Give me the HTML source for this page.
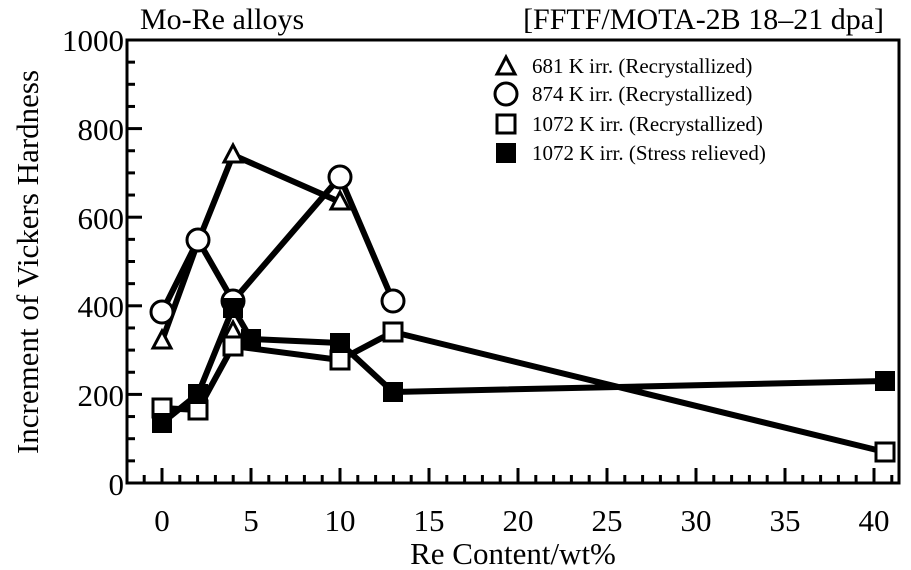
<!DOCTYPE html>
<html><head><meta charset="utf-8"><style>body{margin:0;background:#fff}svg{display:block}</style></head><body>
<svg width="911" height="570" viewBox="0 0 911 570" font-family="Liberation Serif, serif">
<defs>
<g id="tri"><polygon points="0,-10 9,7 -9,7" fill="#fff" stroke="#000" stroke-width="3"/></g>
<g id="cir"><circle r="11" fill="#fff" stroke="#000" stroke-width="3"/></g>
<g id="osq"><rect x="-9" y="-9" width="18" height="18" fill="#fff" stroke="#000" stroke-width="3"/></g>
<g id="fsq"><rect x="-10" y="-10" width="20" height="20" fill="#000"/></g>
</defs>
<rect x="127" y="40" width="772" height="443" fill="none" stroke="#000" stroke-width="3"/>
<g stroke="#000" stroke-width="3" id="ticks"></g>
<g font-size="31" text-anchor="end">
<text x="124" y="51">1000</text><text x="124" y="140">800</text><text x="124" y="229">600</text><text x="124" y="317">400</text><text x="124" y="406">200</text><text x="124" y="495">0</text>
</g>
<g font-size="31" text-anchor="middle">
<text x="162" y="531">0</text><text x="251" y="531">5</text><text x="340" y="531">10</text><text x="429" y="531">15</text><text x="518" y="531">20</text><text x="607" y="531">25</text><text x="696" y="531">30</text><text x="785" y="531">35</text><text x="874" y="531">40</text>
<text x="513" y="564">Re Content/wt%</text>
</g>
<text x="38" y="262" font-size="31" text-anchor="middle" transform="rotate(-90 38 262)">Increment of Vickers Hardness</text>
<text x="140" y="29" font-size="30">Mo-Re alloys</text>
<text x="884" y="29" font-size="30" text-anchor="end">[FFTF/MOTA-2B 18–21 dpa]</text>
<g font-size="21">
<use href="#tri" x="506" y="67"/><text x="532" y="73">681 K irr. (Recrystallized)</text>
<use href="#cir" x="506" y="94"/><text x="532" y="101">874 K irr. (Recrystallized)</text>
<use href="#osq" x="506" y="124"/><text x="532" y="131">1072 K irr. (Recrystallized)</text>
<use href="#fsq" x="506" y="153"/><text x="532" y="160">1072 K irr. (Stress relieved)</text>
</g>
<g fill="none" stroke="#000" stroke-width="6" stroke-linejoin="round">
<polyline points="162,341 198,242 233,155 340,202"/>
<polyline points="162,312 198,240 233,301 340,177 393,301"/>
<polyline points="162,408 198,410 233,346 340,360 393,332 885,452"/>
<polyline points="162,423 198,394 233,308 251,339 340,343 393,392 885,381"/>
</g>
<use href="#tri" x="162" y="341"/><use href="#tri" x="233" y="155"/><use href="#tri" x="340" y="202"/><use href="#tri" x="233" y="332"/>
<use href="#cir" x="162" y="312"/><use href="#cir" x="198" y="240"/><use href="#cir" x="233" y="301"/><use href="#cir" x="340" y="177"/><use href="#cir" x="393" y="301"/>
<use href="#osq" x="162" y="408"/><use href="#osq" x="198" y="410"/><use href="#osq" x="233" y="346"/><use href="#osq" x="340" y="360"/><use href="#osq" x="393" y="332"/><use href="#osq" x="885" y="452"/>
<use href="#fsq" x="162" y="423"/><use href="#fsq" x="198" y="394"/><use href="#fsq" x="233" y="308"/><use href="#fsq" x="251" y="339"/><use href="#fsq" x="340" y="343"/><use href="#fsq" x="393" y="392"/><use href="#fsq" x="885" y="381"/>
</svg>
<script>
var g=document.getElementById('ticks'),s='';
for(var v=0;v<=1000;v+=50){var y=483-v*0.443,L=(v%200==0)?15:8;s+='<line x1="127" y1="'+y+'" x2="'+(127+L)+'" y2="'+y+'"/>';}
for(var u=-1;u<=41;u++){var x=162+u*17.8,L=(u%5==0)?15:8;s+='<line x1="'+x+'" y1="483" x2="'+x+'" y2="'+(483-L)+'"/>';}
g.innerHTML=s;
</script>
</body></html>
